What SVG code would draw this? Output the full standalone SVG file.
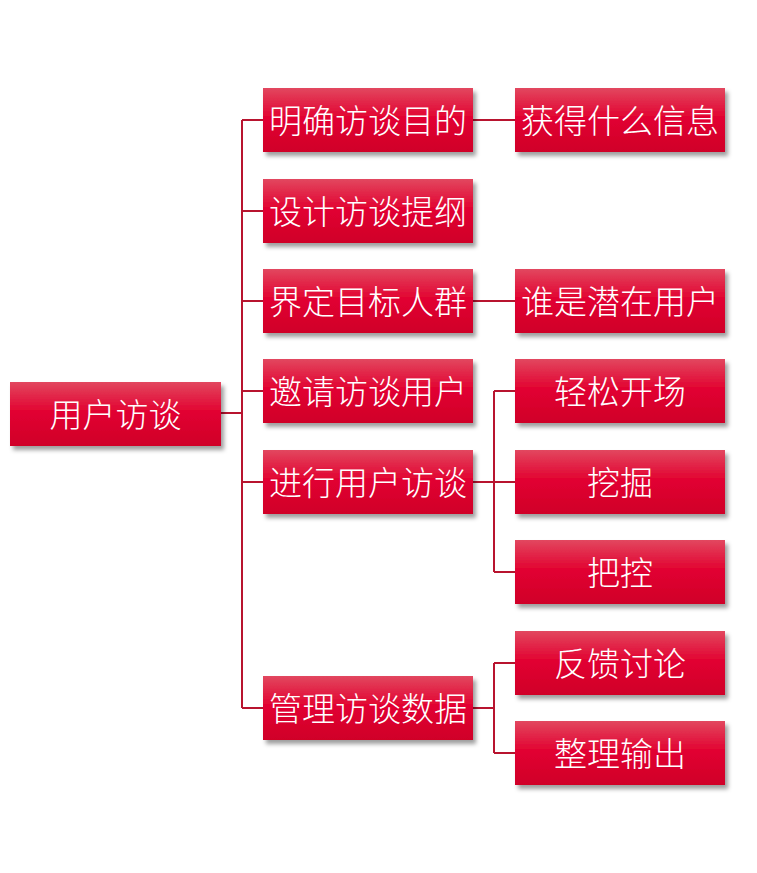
<svg xmlns="http://www.w3.org/2000/svg" width="757" height="873" viewBox="0 0 757 873">
<defs>
<linearGradient id="g" x1="0" y1="0" x2="0" y2="1">
<stop offset="0" stop-color="#e2475f"/>
<stop offset="0.45" stop-color="#e20532"/>
<stop offset="1" stop-color="#d00028"/>
</linearGradient>
<filter id="sh" x="-10%" y="-20%" width="125%" height="150%">
<feDropShadow dx="3" dy="4" stdDeviation="2.2" flood-color="#000" flood-opacity="0.38"/>
</filter>
</defs>
<style>
.b{fill:url(#g);filter:url(#sh)}
.t{fill:#fff;font-family:"Noto Sans CJK SC","Noto Sans",sans-serif;font-size:33px;font-weight:300;text-anchor:middle;dominant-baseline:central}
.c{fill:none;stroke:#b8142f;stroke-width:2}
</style>
<rect width="757" height="873" fill="#fff"/>
<g id="connectors">
<path class="c" d="M221,413H242M242,120V708M242,120H263M242,211H263M242,301H263M242,391H263M242,482H263M242,708H263"/>
<path class="c" d="M473,120H515M473,301H515"/>
<path class="c" d="M473,482H494M494,391V572M494,391H515M494,482H515M494,572H515"/>
<path class="c" d="M473,708H494M494,663V753M494,663H515M494,753H515"/>
</g>
<g id="root"><rect class="b" x="10" y="382" width="211" height="64"/><text class="t" x="115.5" y="413">用户访谈</text></g>
<g id="n1"><rect class="b" x="263" y="88" width="210" height="64"/><text class="t" x="368" y="119">明确访谈目的</text></g>
<g id="n2"><rect class="b" x="263" y="179" width="210" height="64"/><text class="t" x="368" y="210">设计访谈提纲</text></g>
<g id="n3"><rect class="b" x="263" y="269" width="210" height="64"/><text class="t" x="368" y="300">界定目标人群</text></g>
<g id="n4"><rect class="b" x="263" y="359" width="210" height="64"/><text class="t" x="368" y="390">邀请访谈用户</text></g>
<g id="n5"><rect class="b" x="263" y="450" width="210" height="64"/><text class="t" x="368" y="481">进行用户访谈</text></g>
<g id="n6"><rect class="b" x="263" y="676" width="210" height="64"/><text class="t" x="368" y="707">管理访谈数据</text></g>
<g id="m1"><rect class="b" x="515" y="88" width="210" height="64"/><text class="t" x="620" y="119">获得什么信息</text></g>
<g id="m2"><rect class="b" x="515" y="269" width="210" height="64"/><text class="t" x="620" y="300">谁是潜在用户</text></g>
<g id="m3"><rect class="b" x="515" y="359" width="210" height="64"/><text class="t" x="620" y="390">轻松开场</text></g>
<g id="m4"><rect class="b" x="515" y="450" width="210" height="64"/><text class="t" x="620" y="481">挖掘</text></g>
<g id="m5"><rect class="b" x="515" y="540" width="210" height="64"/><text class="t" x="620" y="571">把控</text></g>
<g id="m6"><rect class="b" x="515" y="631" width="210" height="64"/><text class="t" x="620" y="662">反馈讨论</text></g>
<g id="m7"><rect class="b" x="515" y="721" width="210" height="64"/><text class="t" x="620" y="752">整理输出</text></g>
</svg>
